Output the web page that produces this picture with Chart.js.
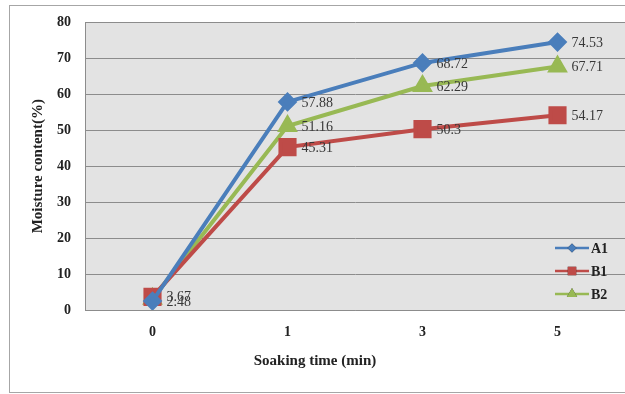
<!DOCTYPE html>
<html>
<head>
<meta charset="utf-8">
<script src="https://cdn.jsdelivr.net/npm/chart.js@4/dist/chart.umd.min.js"></script>
<style>
  body { margin: 0; background: #fff; overflow: hidden; }
  #wrap { position: relative; width: 625px; height: 394px; overflow: hidden; }
  #frame { position: absolute; left: 9px; top: 5px; width: 640px; height: 386px; border: 1px solid #a6a6a6; }
  canvas { position: absolute; left: 0; top: 0; }
</style>
</head>
<body>
<div id="wrap">
  <div id="frame"></div>
  <canvas id="myChart" width="625" height="394"></canvas>
</div>
<script>
const times = ['0', '1', '3', '5'];
const a1 = [2.48, 57.88, 68.72, 74.53];
const b1 = [3.67, 45.31, 50.3, 54.17];
const b2 = [3.1, 51.16, 62.29, 67.71];
const yTicks = [0, 10, 20, 30, 40, 50, 60, 70, 80];

const serif = 'Liberation Serif, Times New Roman, serif';

// grey plot background
const plotBg = {
  id: 'plotBg',
  beforeDraw(chart) {
    const a = chart.chartArea;
    const c = chart.ctx;
    c.save();
    c.fillStyle = '#e3e3e3';
    c.fillRect(a.left, a.top, a.right - a.left, a.bottom - a.top);
    c.restore();
  }
};

// value labels to the right of each point
const valueLabels = {
  id: 'valueLabels',
  afterDatasetsDraw(chart) {
    const c = chart.ctx;
    c.save();
    c.font = '14px ' + serif;
    c.fillStyle = '#383838';
    c.textAlign = 'left';
    c.textBaseline = 'middle';
    chart.data.datasets.forEach((ds, i) => {
      chart.getDatasetMeta(i).data.forEach((pt, j) => {
        if (ds.label === 'B2' && j === 0) return;
        c.fillText(String(ds.data[j]), pt.x + 14, pt.y + 1);
      });
    });
    c.restore();
  }
};

// legend inside the plot, bottom right + x axis title (sits left of centre in the original)
const insideLegend = {
  id: 'insideLegend',
  afterDraw(chart) {
    const a = chart.chartArea;
    const c = chart.ctx;
    c.save();
    chart.data.datasets.forEach((ds, i) => {
      const y = a.bottom - 62 + i * 23;
      const x0 = a.right - 70;
      c.strokeStyle = ds.borderColor;
      c.lineWidth = 2.5;
      c.beginPath();
      c.moveTo(x0, y);
      c.lineTo(x0 + 34, y);
      c.stroke();
      Chart.helpers.drawPoint(c, {
        pointStyle: ds.pointStyle,
        radius: ds.label === 'A1' ? 4.5 : 6,
        borderWidth: 0
      }, x0 + 17, y);
      c.fillStyle = ds.borderColor;
      c.fill();
      c.fillStyle = '#222';
      c.font = 'bold 14px ' + serif;
      c.textAlign = 'left';
      c.textBaseline = 'middle';
      c.fillText(ds.label, x0 + 36, y + 1);
    });
    c.font = 'bold 15px ' + serif;
    c.textAlign = 'center';
    c.fillStyle = '#222';
    c.fillText('Soaking time (min)', a.left + 230, a.bottom + 51);
    c.restore();
  }
};

new Chart(document.getElementById('myChart'), {
  type: 'line',
  data: {
    labels: times,
    datasets: [
      { label: 'A1', data: a1, borderColor: '#4a7ebb', backgroundColor: '#4a7ebb',
        pointStyle: 'rectRot', pointRadius: 7, borderWidth: 4 },
      { label: 'B1', data: b1, borderColor: '#be4b48', backgroundColor: '#be4b48',
        pointStyle: 'rect', pointRadius: 10, borderWidth: 4 },
      { label: 'B2', data: b2, borderColor: '#98b954', backgroundColor: '#98b954',
        pointStyle: 'triangle', pointRadius: 8, borderWidth: 4 }
    ]
  },
  options: {
    responsive: false,
    animation: false,
    layout: { autoPadding: false, padding: { left: 0, top: 20, right: 0, bottom: 0 } },
    elements: { line: { tension: 0 } },
    plugins: {
      legend: { display: false },
      tooltip: { enabled: false }
    },
    scales: {
      x: {
        offset: true,
        grid: { display: false, drawTicks: false },
        border: { color: '#8c8c8c', width: 1 },
        ticks: { color: '#222', padding: 14, font: { family: serif, size: 14, weight: 'bold' } },
        afterFit(scale) { scale.height = 84; }
      },
      y: {
        min: 0, max: 80,
        afterBuildTicks(scale) { scale.ticks = yTicks.map(v => ({ value: v })); },
        grid: { color: '#8c8c8c', drawTicks: false },
        border: { color: '#8c8c8c', width: 1 },
        ticks: { color: '#222', padding: 14, font: { family: serif, size: 14, weight: 'bold' } },
        title: { display: true, text: 'Moisture content(%)', color: '#222',
          font: { family: serif, size: 15, weight: 'bold' }, padding: { top: 29, bottom: 0 } },
        afterFit(scale) { scale.width = 85; }
      }
    }
  },
  plugins: [plotBg, valueLabels, insideLegend]
});
</script>
</body>
</html>
